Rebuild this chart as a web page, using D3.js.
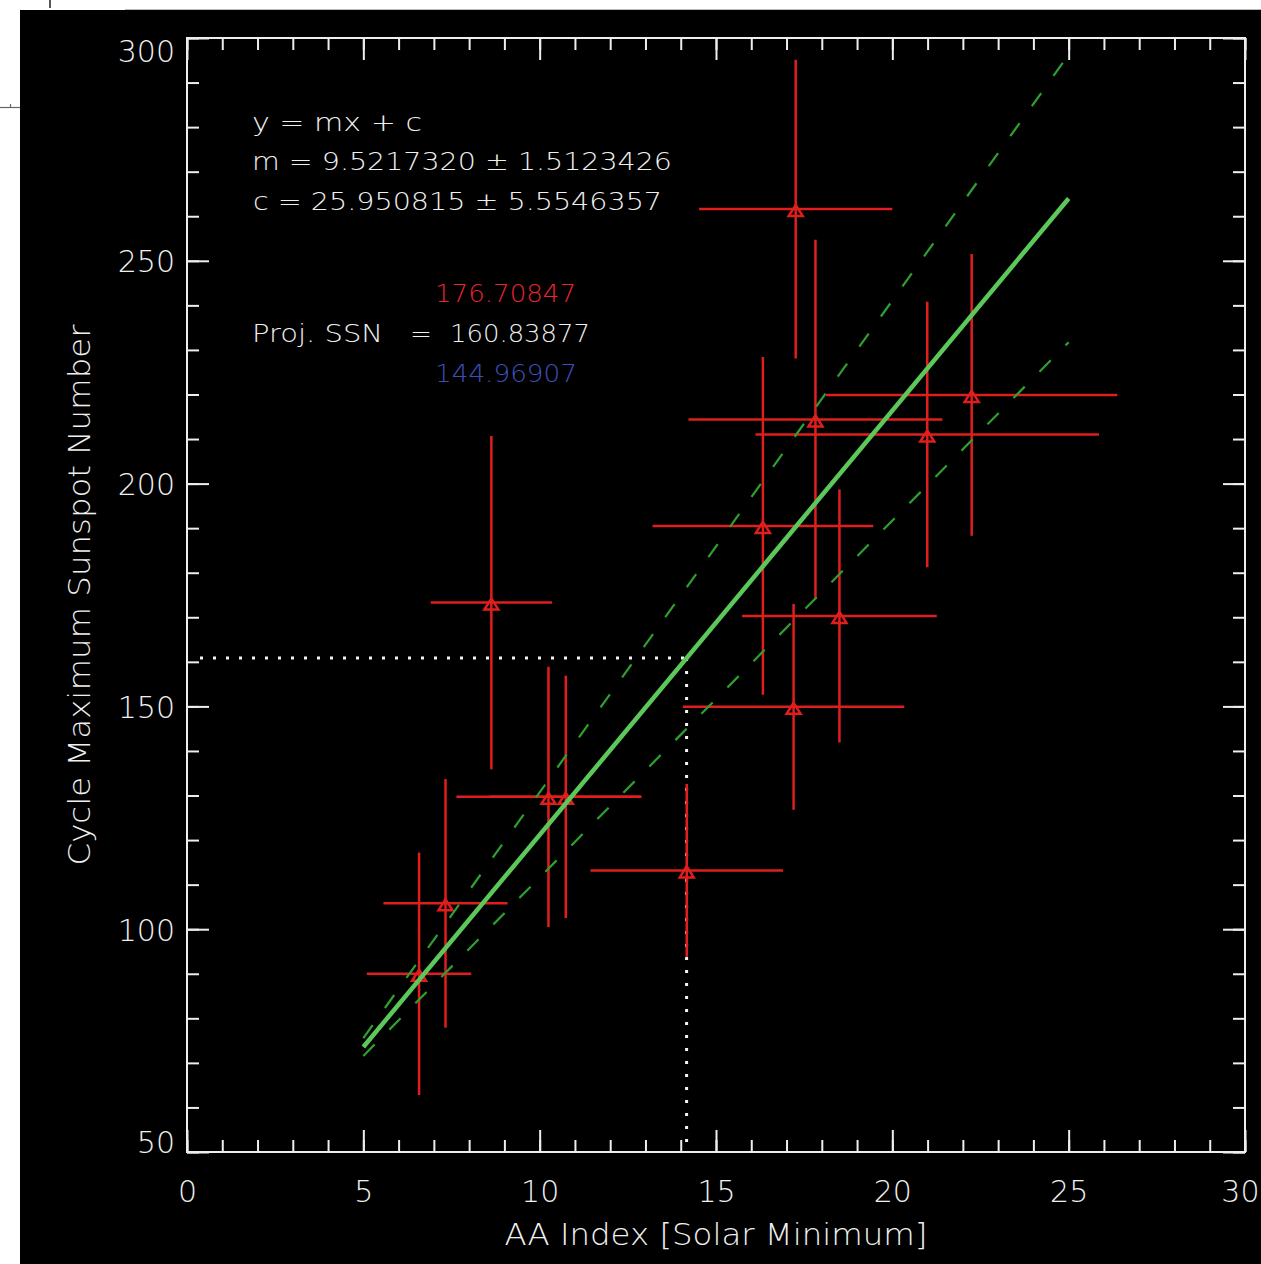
<!DOCTYPE html>
<html>
<head>
<meta charset="utf-8">
<script src="https://cdn.jsdelivr.net/npm/d3@7"></script>
<style>
  html, body { margin: 0; padding: 0; background: #ffffff; }
  svg { display: block; }
  text { font-family: "DejaVu Sans", "Liberation Sans", sans-serif; font-weight: 200; fill: #f0f0f0; }
</style>
</head>
<body>
<svg id="chart" width="1261" height="1264"></svg>
<script>
// ---- data: AA index at solar minimum vs. following cycle's maximum sunspot number
const aaIndex = [6.58, 7.33, 8.63, 10.25, 10.74, 14.17, 16.33, 17.20, 17.26, 17.82, 18.50, 20.99, 22.25];
const aaErr   = [1.48, 1.76, 1.72, 2.61, 2.15, 2.73, 3.13, 3.14, 2.74, 3.60, 2.76, 4.87, 4.13];
const ssnMax  = [90.0, 105.8, 173.3, 129.7, 129.7, 113.2, 190.5, 149.9, 261.6, 214.4, 170.3, 211.0, 219.9];
const ssnErr  = [27.2, 27.9, 37.4, 29.2, 27.2, 19.4, 37.9, 23.1, 33.5, 40.3, 28.4, 29.8, 31.6];

// linear fit y = m x + c and its uncertainties
const fitM = 9.5217320, fitMErr = 1.5123426;
const fitC = 25.950815, fitCErr = 5.5546357;
const fitRange = [5, 25];

// projected sunspot number and its bounds
const projSSN = 160.83877, projHigh = 176.70847, projLow = 144.96907;

// axis ticks
const xMajor = [0, 5, 10, 15, 20, 25, 30];
const xMinor = d3.range(0, 31, 1);
const yMajor = [50, 100, 150, 200, 250, 300];
const yMinor = d3.range(50, 301, 10);

const svg = d3.select("#chart");
const W = 1261, H = 1264;
const plot = { left: 187, right: 1245, top: 38, bottom: 1152 };

const x = d3.scaleLinear().domain([0, 30]).range([plot.left, plot.right]);
const y = d3.scaleLinear().domain([50, 300]).range([plot.bottom, plot.top]);

// page background with the dark figure panel
svg.append("rect").attr("x", 0).attr("y", 0).attr("width", W).attr("height", H).attr("fill", "#ffffff");
svg.append("rect").attr("x", 20).attr("y", 10).attr("width", W - 20).attr("height", H - 10).attr("fill", "#000000");
// stray marks in the margin
svg.append("line").attr("x1", 125).attr("x2", W).attr("y1", 9.5).attr("y2", 9.5).attr("stroke", "#bbbbbb").attr("stroke-width", 1);
svg.append("line").attr("x1", 50).attr("x2", 50).attr("y1", 0).attr("y2", 8).attr("stroke", "#555").attr("stroke-width", 2);
svg.append("line").attr("x1", 0).attr("x2", 20).attr("y1", 107.5).attr("y2", 107.5).attr("stroke", "#666").attr("stroke-width", 1.2);
svg.append("line").attr("x1", 10.5).attr("x2", 10.5).attr("y1", 104).attr("y2", 107.5).attr("stroke", "#666").attr("stroke-width", 1.2);

const AX = "#eeeeee";
function styleAxis(g) {
  g.select(".domain").remove();
  g.selectAll(".tick line").attr("stroke", AX).attr("stroke-width", 2);
}

// ---- axes (ticks point into the plot on all four sides)
svg.append("g").attr("transform", `translate(0,${plot.bottom})`)
  .call(d3.axisBottom(x).tickValues(xMinor).tickSize(-12).tickFormat("")).call(styleAxis);
const xb = svg.append("g").attr("transform", `translate(0,${plot.bottom})`)
  .call(d3.axisBottom(x).tickValues(xMajor).tickSize(-22).tickFormat(d3.format("d"))).call(styleAxis);
xb.selectAll(".tick text").attr("y", 50).attr("dy", 0)
  .style("font-size", "30px").attr("fill", "#f0f0f0")
  // the last label sits at the panel edge: keep it inside the page
  .attr("text-anchor", d => d === 30 ? "end" : "middle")
  .attr("x", d => d === 30 ? W - plot.right - 2 : 0);

svg.append("g").attr("transform", `translate(0,${plot.top})`)
  .call(d3.axisTop(x).tickValues(xMinor).tickSize(-12).tickFormat("")).call(styleAxis);
svg.append("g").attr("transform", `translate(0,${plot.top})`)
  .call(d3.axisTop(x).tickValues(xMajor).tickSize(-22).tickFormat("")).call(styleAxis);

svg.append("g").attr("transform", `translate(${plot.left},0)`)
  .call(d3.axisLeft(y).tickValues(yMinor).tickSize(-12).tickFormat("")).call(styleAxis);
const yl = svg.append("g").attr("transform", `translate(${plot.left},0)`)
  .call(d3.axisLeft(y).tickValues(yMajor).tickSize(-22).tickPadding(12).tickFormat(d3.format("d"))).call(styleAxis);
yl.selectAll(".tick text")
  .style("font-size", "30px").attr("fill", "#f0f0f0")
  .attr("dy", "0.36em")
  .attr("y", d => d === 300 ? 13 : d === 50 ? -10 : 0);

svg.append("g").attr("transform", `translate(${plot.right},0)`)
  .call(d3.axisRight(y).tickValues(yMinor).tickSize(-12).tickFormat("")).call(styleAxis);
svg.append("g").attr("transform", `translate(${plot.right},0)`)
  .call(d3.axisRight(y).tickValues(yMajor).tickSize(-22).tickFormat("")).call(styleAxis);

// plot frame
svg.append("rect")
  .attr("x", plot.left).attr("y", plot.top)
  .attr("width", plot.right - plot.left).attr("height", plot.bottom - plot.top)
  .attr("fill", "none").attr("stroke", AX).attr("stroke-width", 2);

// axis titles
svg.append("text")
  .attr("x", x(15)).attr("y", 1245).attr("text-anchor", "middle")
  .attr("textLength", 423).attr("lengthAdjust", "spacingAndGlyphs")
  .style("font-size", "31px").text("AA Index [Solar Minimum]");
svg.append("text")
  .attr("transform", `translate(90,${(plot.top + plot.bottom) / 2}) rotate(-90)`)
  .attr("text-anchor", "middle")
  .attr("textLength", 541).attr("lengthAdjust", "spacingAndGlyphs")
  .style("font-size", "30px").text("Cycle Maximum Sunspot Number");

// ---- fit lines
const fitSolid = d3.line().x(d => x(d)).y(d => y(fitM * d + fitC));
const fitUpper = d3.line().x(d => x(d)).y(d => y((fitM + fitMErr) * d + (fitC - fitCErr)));
const fitLower = d3.line().x(d => x(d)).y(d => y((fitM - fitMErr) * d + (fitC + fitCErr)));

const gFit = svg.append("g");
[fitUpper, fitLower].forEach(gen => {
  gFit.append("path").attr("d", gen(fitRange))
    .attr("fill", "none").attr("stroke", "#2ea02e").attr("stroke-width", 2.2)
    .attr("stroke-dasharray", "16 21");
});

// ---- projection guide (dotted)
const projAA = (projSSN - fitC) / fitM;
const gProj = svg.append("g").attr("stroke", "#f4f4f4").attr("stroke-width", 3)
  .attr("stroke-dasharray", "3 10").attr("fill", "none");
gProj.append("line").attr("x1", x(0) + 13).attr("x2", x(projAA)).attr("y1", y(projSSN)).attr("y2", y(projSSN));
gProj.append("line").attr("x1", x(projAA)).attr("x2", x(projAA)).attr("y1", y(projSSN)).attr("y2", y(50));

// ---- data points with error bars
const RED = "#e01e1e";
const pts = aaIndex.map((v, i) => ({ aa: v, aaE: aaErr[i], s: ssnMax[i], sE: ssnErr[i] }));
const gPts = svg.append("g").attr("stroke", RED).attr("fill", "none");
gPts.selectAll("line.h").data(pts).join("line").attr("class", "h")
  .attr("x1", d => x(d.aa - d.aaE)).attr("x2", d => x(d.aa + d.aaE))
  .attr("y1", d => y(d.s)).attr("y2", d => y(d.s)).attr("stroke-width", 2.5);
gPts.selectAll("line.v").data(pts).join("line").attr("class", "v")
  .attr("x1", d => x(d.aa)).attr("x2", d => x(d.aa))
  .attr("y1", d => y(d.s + d.sE)).attr("y2", d => y(d.s - d.sE)).attr("stroke-width", 2.5);
gPts.selectAll("path.tri").data(pts).join("path").attr("class", "tri")
  .attr("d", d => {
    const cx = x(d.aa), cy = y(d.s);
    return `M${cx - 7},${cy + 7}L${cx + 7},${cy + 7}L${cx},${cy - 4}Z`;
  })
  .attr("stroke-width", 2.5).attr("stroke-linejoin", "miter");

// solid fit on top
gFit.append("path").attr("d", fitSolid(fitRange))
  .attr("fill", "none").attr("stroke", "#5cc85a").attr("stroke-width", 4.5);
svg.node().appendChild(gFit.node());

// ---- fit annotation
const ann = svg.append("g").style("font-size", "25px");
ann.append("text").attr("x", 252).attr("y", 131)
  .attr("textLength", 170).attr("lengthAdjust", "spacingAndGlyphs").text("y = mx + c");
ann.append("text").attr("x", 252).attr("y", 170)
  .attr("textLength", 420).attr("lengthAdjust", "spacingAndGlyphs")
  .text(`m = ${fitM.toFixed(7)} ± ${fitMErr.toFixed(7)}`);
ann.append("text").attr("x", 253).attr("y", 210)
  .attr("textLength", 409).attr("lengthAdjust", "spacingAndGlyphs")
  .text(`c = ${fitC.toFixed(6)} ± ${fitCErr.toFixed(7)}`);

ann.append("text").attr("x", 435).attr("y", 302).style("fill", "#ea2430")
  .attr("textLength", 141).attr("lengthAdjust", "spacingAndGlyphs").text(projHigh.toFixed(5));
ann.append("text").attr("x", 252).attr("y", 342)
  .attr("textLength", 131).attr("lengthAdjust", "spacingAndGlyphs").text("Proj. SSN");
ann.append("text").attr("x", 410).attr("y", 342)
  .attr("textLength", 22).attr("lengthAdjust", "spacingAndGlyphs").text("=");
ann.append("text").attr("x", 450).attr("y", 342)
  .attr("textLength", 140).attr("lengthAdjust", "spacingAndGlyphs").text(projSSN.toFixed(5));
ann.append("text").attr("x", 435).attr("y", 382).style("fill", "#3e50b8")
  .attr("textLength", 142).attr("lengthAdjust", "spacingAndGlyphs").text(projLow.toFixed(5));
</script>
</body>
</html>
